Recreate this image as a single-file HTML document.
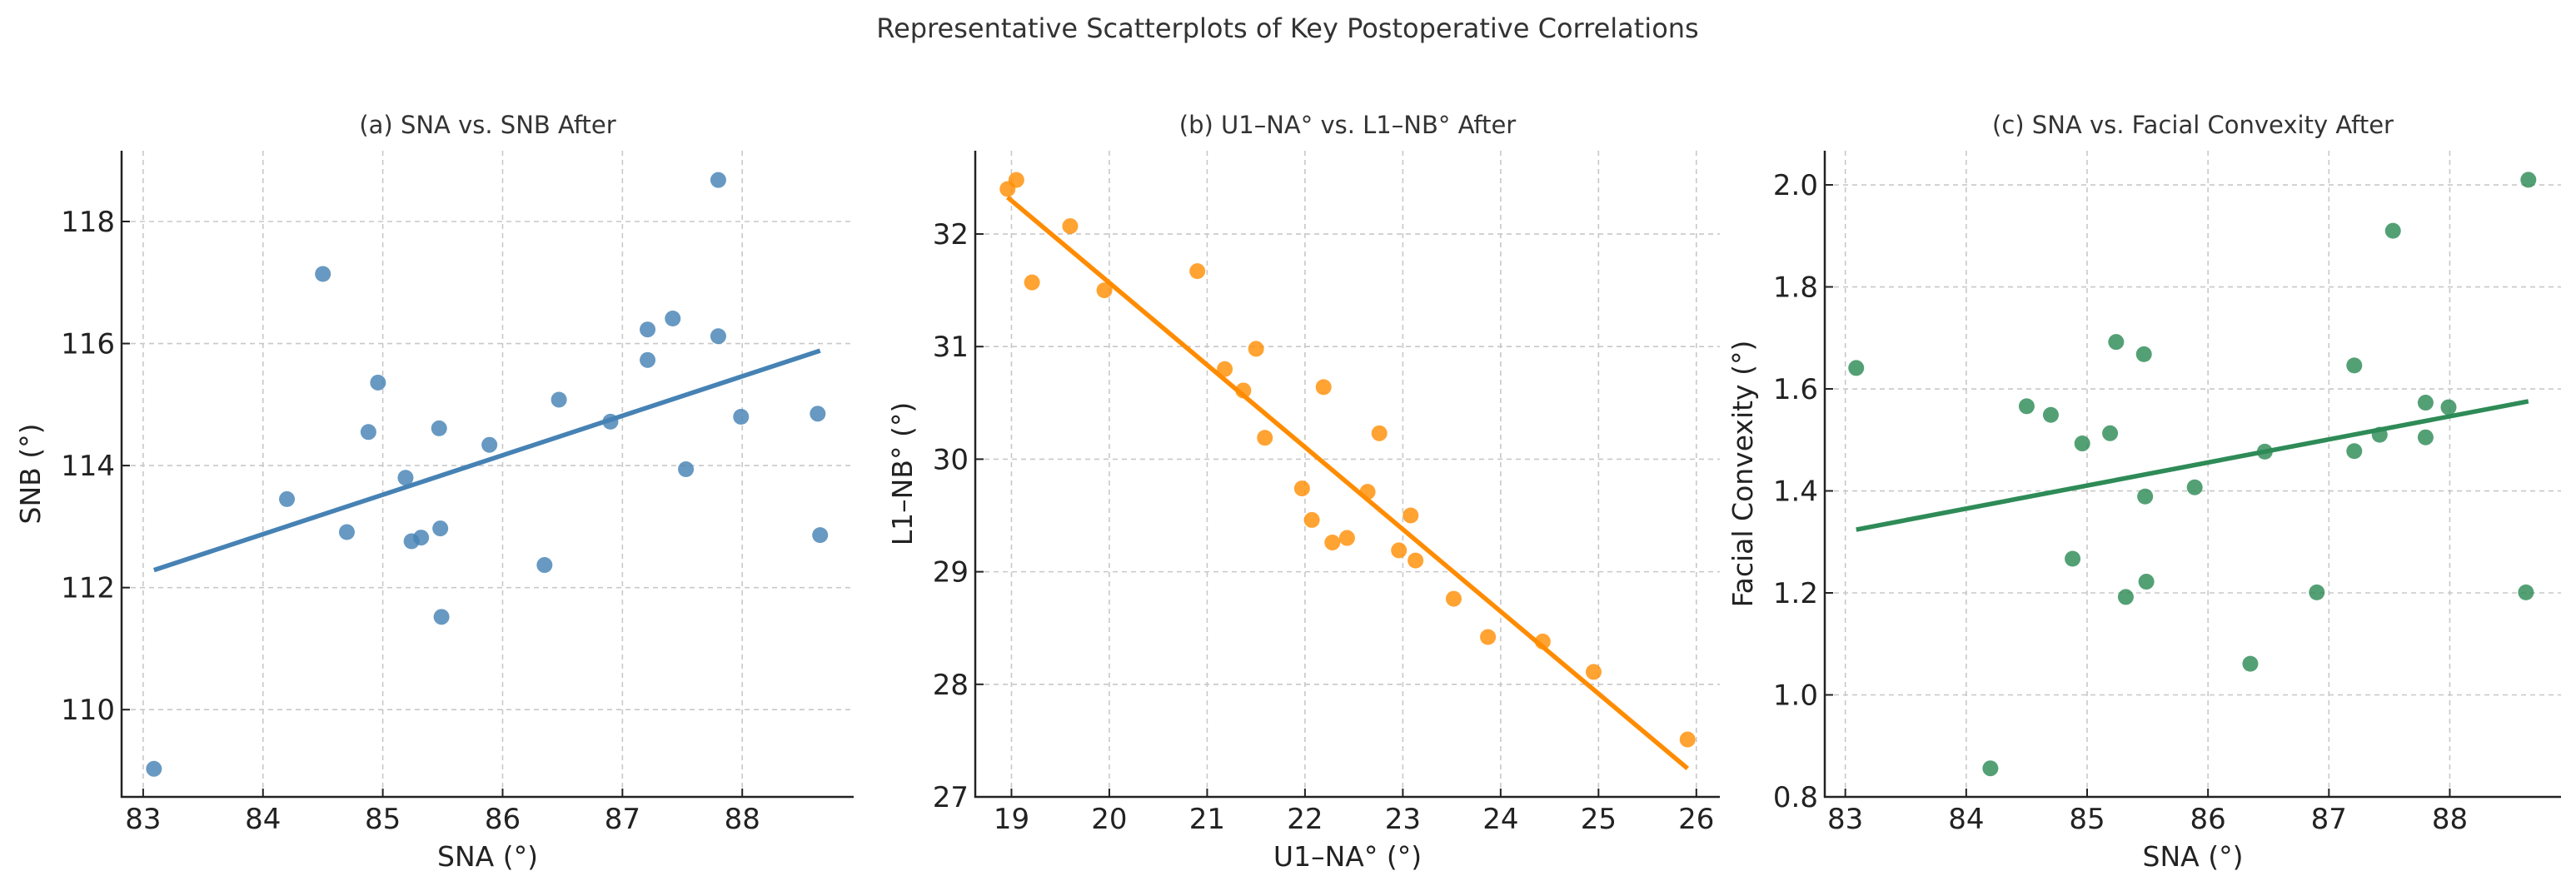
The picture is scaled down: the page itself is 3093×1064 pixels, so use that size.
<!DOCTYPE html>
<html><head><meta charset="utf-8"><style>
html,body{margin:0;padding:0;background:#fff;}
svg{display:block;font-family:"DejaVu Sans","Liberation Sans",sans-serif;}
</style></head><body>
<svg id="fig" width="3093" height="1064" viewBox="0 0 3093 1064" xmlns="http://www.w3.org/2000/svg">
<rect width="3093" height="1064" fill="#fff"/>
<text x="1546" y="45" text-anchor="middle" font-size="32" fill="#333">Representative Scatterplots of Key Postoperative Correlations</text>
</svg>
<script>
const sna = [83.09,84.20,84.50,84.70,84.88,84.96,85.19,85.24,85.32,85.47,85.48,85.49,85.89,86.35,86.47,86.90,87.21,87.21,87.42,87.53,87.80,87.80,87.99,88.63,88.65];
const snb = [109.03,113.45,117.14,112.91,114.55,115.36,113.80,112.76,112.82,114.61,112.97,111.52,114.34,112.37,115.08,114.72,116.23,115.73,116.41,113.94,118.68,116.12,114.80,114.85,112.86];
const u1na = [18.96,19.05,19.21,19.60,19.95,20.90,21.18,21.50,21.37,21.59,22.19,21.97,22.07,22.28,22.43,22.64,22.76,22.96,23.08,23.13,23.52,23.87,24.43,24.95,25.91];
const l1nb = [32.40,32.48,31.57,32.07,31.50,31.67,30.80,30.98,30.61,30.19,30.64,29.74,29.46,29.26,29.30,29.71,30.23,29.19,29.50,29.10,28.76,28.42,28.38,28.11,27.51];
const convexity = [1.641,0.856,1.566,1.549,1.267,1.493,1.513,1.692,1.192,1.668,1.389,1.222,1.407,1.061,1.477,1.201,1.646,1.478,1.510,1.910,1.573,1.505,1.564,1.201,2.010];
const snaTicks = [83,84,85,86,87,88];
const snbTicks = [110,112,114,116,118];
const u1Ticks = [19,20,21,22,23,24,25,26];
const l1Ticks = [27,28,29,30,31,32];
const convTicks = [0.8,1.0,1.2,1.4,1.6,1.8,2.0];

const NS = "http://www.w3.org/2000/svg";
const svg = document.getElementById('fig');
function mk(tag, attrs, parent){const e=document.createElementNS(NS,tag);for(const k in attrs)e.setAttribute(k,attrs[k]);(parent||svg).appendChild(e);return e;}

function panel(cfg){
  const g = mk('g',{});
  
  
  const L=cfg.box[0],R=cfg.box[1],T=cfg.box[2],B=cfg.box[3];
  const sx=v=>L+(v-cfg.xlim[0])/(cfg.xlim[1]-cfg.xlim[0])*(R-L);
  const sy=v=>B-(v-cfg.ylim[0])/(cfg.ylim[1]-cfg.ylim[0])*(B-T);
  cfg.xt.forEach(t=>{
    const gl=mk('line',{x1:sx(t),x2:sx(t),y1:T,y2:B,stroke:'#c8c8c8','stroke-width':1.6,'stroke-dasharray':'6,5'},g);
    
    
    mk('line',{x1:sx(t),x2:sx(t),y1:B,y2:B-10,stroke:'#222','stroke-width':2},g);
    const tx=mk('text',{x:sx(t),y:B+38,'text-anchor':'middle','font-size':34,fill:'#222'},g);
    tx.textContent=t;
    
    
  });
  cfg.yt.forEach(t=>{
    const gl=mk('line',{x1:L,x2:R,y1:sy(t),y2:sy(t),stroke:'#c8c8c8','stroke-width':1.6,'stroke-dasharray':'6,5'},g);
    
    
    mk('line',{x1:L,x2:L+10,y1:sy(t),y2:sy(t),stroke:'#222','stroke-width':2},g);
    const tx=mk('text',{x:L-8,y:sy(t)+12,'text-anchor':'end','font-size':34,fill:'#222'},g);
    tx.textContent=cfg.yfmt?t.toFixed(1):t;
    
    
  });
  cfg.x.forEach((v,i)=>{
    const c=mk('circle',{cx:sx(v),cy:sy(cfg.y[i]),r:9.5,fill:cfg.pt},g);
    
    
  });
  const n=cfg.x.length;const mx=cfg.x.reduce((a,b)=>a+b)/n, my=cfg.y.reduce((a,b)=>a+b)/n;
  let sxy=0,sxx=0;cfg.x.forEach((v,i)=>{sxy+=(v-mx)*(cfg.y[i]-my);sxx+=(v-mx)*(v-mx);});
  const m=sxy/sxx,b=my-m*mx;const x0=Math.min(...cfg.x),x1=Math.max(...cfg.x);
  const ln=mk('line',{x1:sx(x0),y1:sy(m*x0+b),x2:sx(x1),y2:sy(m*x1+b),stroke:cfg.line,'stroke-width':5.5},g);
  
  
  const sp1=mk('line',{x1:L,x2:L,y1:T,y2:B+1,stroke:'#222','stroke-width':2.5},g);
  
  
  const sp2=mk('line',{x1:L-1,x2:R,y1:B,y2:B,stroke:'#222','stroke-width':2.5},g);
  
  
  const st=mk('text',{x:(L+R)/2,y:160,'text-anchor':'middle','font-size':29,fill:'#333'},g);
  st.textContent=cfg.title;
  
  
  const xl=mk('text',{x:(L+R)/2,y:1040,'text-anchor':'middle','font-size':33,fill:'#222'},g);
  xl.textContent=cfg.xlabel;
  
  
  const yl=mk('text',{x:cfg.ylx,y:(T+B)/2,'text-anchor':'middle','font-size':33,fill:'#222',transform:`rotate(-90 ${cfg.ylx} ${(T+B)/2})`},g);
  yl.textContent=cfg.ylabel;
  
  
}

panel({name:'panel-a-sna-vs-snb',box:[146,1025,181,957],xlim:[82.82,88.93],ylim:[108.57,119.16],xt:snaTicks,yt:snbTicks,x:sna,y:snb,pt:'rgba(70,130,180,0.82)',line:'#4682b4',title:'(a) SNA vs. SNB After',xlabel:'SNA (°)',ylabel:'SNB (°)',ylx:48});
panel({name:'panel-b-u1na-vs-l1nb',box:[1171,2065,181,957],xlim:[18.63,26.24],ylim:[27,32.74],xt:u1Ticks,yt:l1Ticks,x:u1na,y:l1nb,pt:'rgba(255,140,0,0.8)',line:'#ff8c00',title:'(b) U1–NA° vs. L1–NB° After',xlabel:'U1–NA° (°)',ylabel:'L1–NB° (°)',ylx:1095});
panel({name:'panel-c-sna-vs-convexity',box:[2191,3075,181,957],xlim:[82.83,88.92],ylim:[0.8,2.067],xt:snaTicks,yt:convTicks,yfmt:true,x:sna,y:convexity,pt:'rgba(46,139,87,0.82)',line:'#2e8b57',title:'(c) SNA vs. Facial Convexity After',xlabel:'SNA (°)',ylabel:'Facial Convexity (°)',ylx:2104});
</script>
</body></html>
